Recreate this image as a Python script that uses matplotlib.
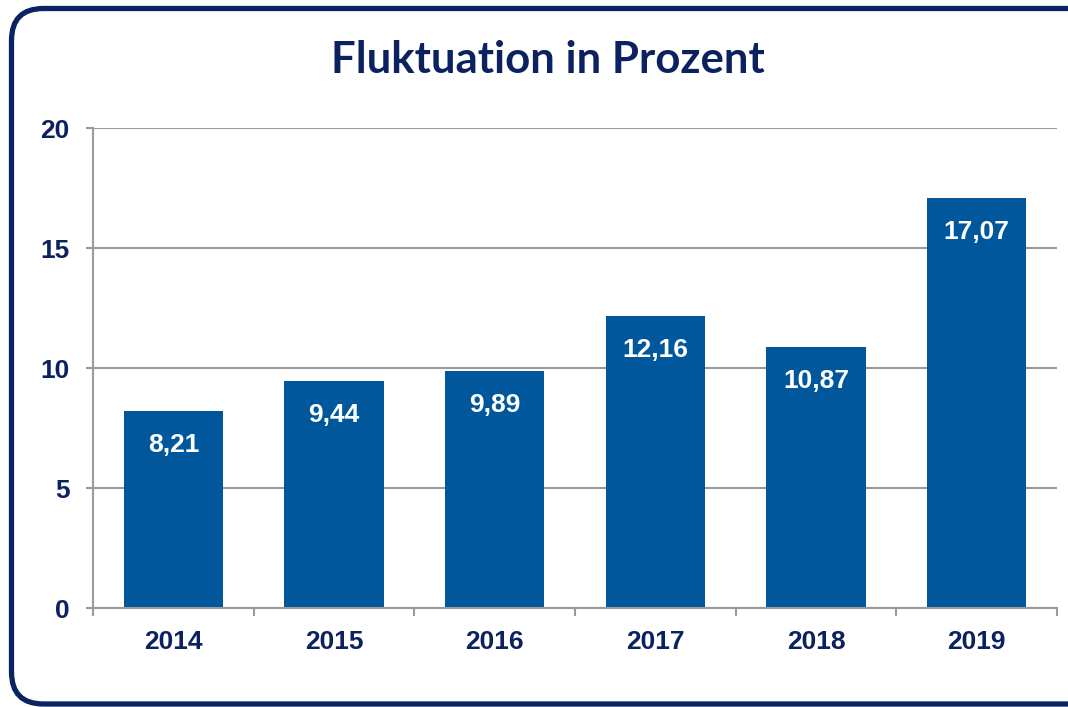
import matplotlib
matplotlib.use("Agg")
import matplotlib.pyplot as plt
from matplotlib.patches import FancyBboxPatch

years = ["2014", "2015", "2016", "2017", "2018", "2019"]
values = [8.21, 9.44, 9.89, 12.16, 10.87, 17.07]
value_labels = ["8,21", "9,44", "9,89", "12,16", "10,87", "17,07"]
y_ticks = [0, 5, 10, 15, 20]

navy = "#0c2260"
bar_color = "#00579b"
grey = "#9a9a9a"

fig = plt.figure(figsize=(10.68, 7.07), dpi=100)
ax = fig.add_axes([93 / 1068, 99 / 707, 964 / 1068, 480 / 707])

x = range(len(years))
ax.bar(x, values, width=0.62, color=bar_color, zorder=3)

for i, (v, lab) in enumerate(zip(values, value_labels)):
    ax.annotate(lab, (i, v), xytext=(0, -24.5), textcoords="offset points",
                ha="center", va="center", color="white", fontsize=19,
                fontweight="bold", family="Liberation Sans", zorder=4)

ax.set_xlim(-0.5, len(years) - 0.5)
ax.set_ylim(0, 20)
ax.set_yticks(y_ticks)
ax.set_yticklabels([str(t) for t in y_ticks], fontsize=19, fontweight="bold",
                   family="Liberation Sans", color=navy)
ax.set_xticks(list(x))
ax.set_xticklabels(years, fontsize=19, fontweight="bold",
                   family="Liberation Sans", color=navy)
ax.set_xticks([i - 0.5 for i in range(len(years) + 1)], minor=True)
ax.tick_params(axis="x", which="major", length=0, pad=16)
ax.tick_params(axis="x", which="minor", length=6, width=1.5, color=grey)
ax.tick_params(axis="y", length=5, width=1.5, color=grey, pad=12)

ax.grid(axis="y", color=grey, linewidth=1.5, zorder=0)
for s in ["top", "right"]:
    ax.spines[s].set_visible(False)
for s in ["left", "bottom"]:
    ax.spines[s].set_color(grey)
    ax.spines[s].set_linewidth(1.5)
    ax.spines[s].set_zorder(5)

fig.text(548 / 1068, 1 - 60 / 707, "Fluktuation in Prozent", ha="center", va="center",
         fontsize=31.5, fontweight="bold", family="Lato", color=navy)

border = FancyBboxPatch((11.5, 3), 1100, 695.5, boxstyle="round,pad=0,rounding_size=32",
                        transform=None, fill=False, edgecolor="#0a2461", linewidth=3.8)
fig.patches.append(border)

fig.savefig("out.png", dpi=100)
